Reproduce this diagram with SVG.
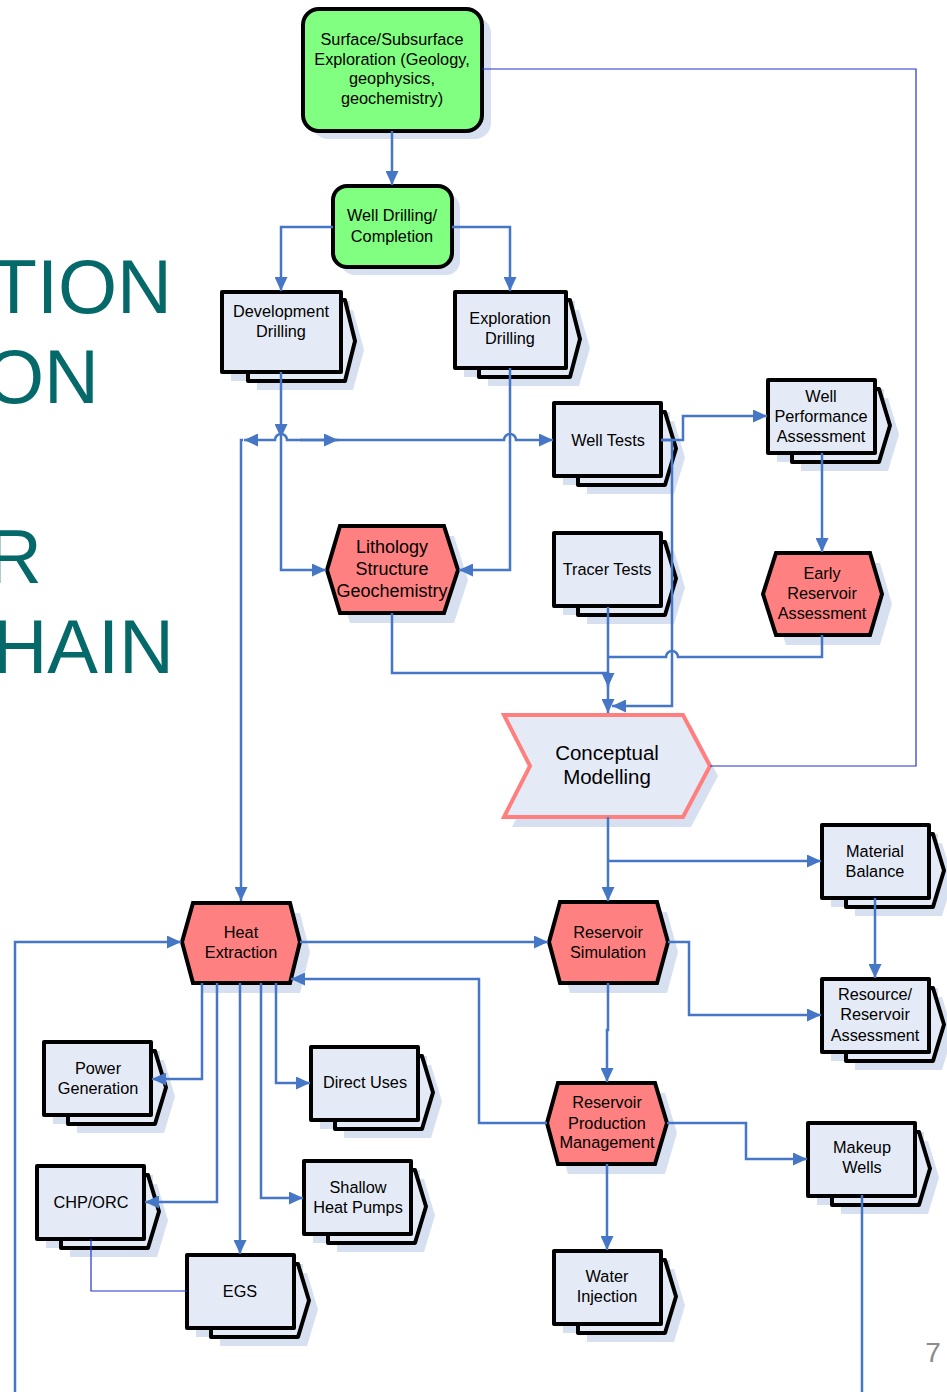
<svg xmlns="http://www.w3.org/2000/svg" xmlns:xlink="http://www.w3.org/1999/xlink" width="947" height="1392" viewBox="0 0 947 1392">
<style>
.t{font-family:"Liberation Sans",Arial,sans-serif;font-size:16.3px;fill:#000;text-anchor:middle}
.big{font-family:"Liberation Sans",Arial,sans-serif;font-size:76px;fill:#05696A;text-anchor:end}
.sh{fill:#D7E0F0;stroke:none}
.doc{fill:#E5EBF6;stroke:#000;stroke-width:4;stroke-linejoin:round}
.hex{fill:#FF8080;stroke:#000;stroke-width:4;stroke-linejoin:miter}
.grn{fill:#80FF80;stroke:#000;stroke-width:4}
.c{fill:none;stroke:#4676C6;stroke-width:2.5}
.ca{fill:none;stroke:#4676C6;stroke-width:2.5;marker-end:url(#ah)}
.thin{fill:none;stroke:#2233CC;stroke-width:1.2}
</style>
<defs>
<marker id="ah" markerUnits="userSpaceOnUse" markerWidth="14" markerHeight="13" refX="14" refY="6.5" orient="auto">
<path d="M0,0 L14,6.5 L0,13 Z" fill="#4676C6"/>
</marker>
<g id="doc">
<rect class="sh" x="9" y="9" width="107" height="73"/>
<polygon class="sh" points="33,18 120,18 131,54.5 120,91 33,91"/>
<polygon class="doc" points="24,9 111,9 122,45.5 111,82 24,82"/>
<rect class="doc" x="0" y="0" width="107" height="73"/>
</g>
</defs>
<rect width="947" height="1392" fill="#fff"/>

<g id="title">
<text class="big" x="172" y="313">TION</text>
<text class="big" x="99" y="403">ON</text>
<text class="big" x="42" y="583">R</text>
<text class="big" x="174" y="673">HAIN</text>
<text x="933" y="1362" style="font-family:'Liberation Sans',Arial,sans-serif;font-size:28px;fill:#8C8C8C;text-anchor:middle">7</text>
</g>

<g id="surface-exploration">
<rect class="sh" x="312" y="17" width="179" height="122" rx="16"/>
<rect class="grn" x="303" y="9" width="179" height="122" rx="16"/>
<text class="t" x="392" y="45">Surface/Subsurface</text>
<text class="t" x="392" y="65">Exploration (Geology,</text>
<text class="t" x="392" y="84">geophysics,</text>
<text class="t" x="392" y="104">geochemistry)</text>
</g>

<g id="well-drilling">
<rect class="sh" x="341" y="194" width="119" height="81" rx="14"/>
<rect class="grn" x="333" y="186" width="119" height="81" rx="14"/>
<text class="t" x="392" y="221">Well Drilling/</text>
<text class="t" x="392" y="242">Completion</text>
</g>

<g id="development-drilling">
<rect class="sh" x="231" y="301" width="119" height="80"/>
<polygon class="sh" points="257,310 353,310 364,350 353,390 257,390"/>
<polygon class="doc" points="248,300 345,300 355,341 345,381 248,381"/>
<rect class="doc" x="222" y="292" width="119" height="80"/>
<text class="t" x="281" y="317">Development</text>
<text class="t" x="281" y="337">Drilling</text>
</g>

<g id="exploration-drilling">
<rect class="sh" x="464" y="301" width="111" height="76"/>
<polygon class="sh" points="488,310 579,310 590,348 579,386 488,386"/>
<polygon class="doc" points="479,300 570,300 580,339 570,377 479,377"/>
<rect class="doc" x="455" y="292" width="111" height="76"/>
<text class="t" x="510" y="324">Exploration</text>
<text class="t" x="510" y="344">Drilling</text>
</g>

<g id="well-tests">
<use xlink:href="#doc" href="#doc" transform="translate(554,403)"/>
<text class="t" x="608" y="446">Well Tests</text>
</g>

<g id="tracer-tests">
<use xlink:href="#doc" href="#doc" transform="translate(554,533)"/>
<text class="t" x="607" y="575">Tracer Tests</text>
</g>

<g id="well-performance">
<use xlink:href="#doc" href="#doc" transform="translate(768,380)"/>
<text class="t" x="821" y="402">Well</text>
<text class="t" x="821" y="422">Performance</text>
<text class="t" x="821" y="442">Assessment</text>
</g>

<g id="lithology">
<polygon class="sh" points="350,536 454,536 468,580 454,623 350,623 337,580"/>
<polygon class="hex" points="340,526 444,526 458,570 444,613 340,613 327,570"/>
<text class="t" x="392" y="553" style="font-size:18px">Lithology</text>
<text class="t" x="392" y="575" style="font-size:18px">Structure</text>
<text class="t" x="392" y="597" style="font-size:18px">Geochemistry</text>
</g>

<g id="early-reservoir">
<polygon class="sh" points="786,563 880,563 892,604 880,645 786,645 773,604"/>
<polygon class="hex" points="776,553 870,553 882,594 870,635 776,635 763,594"/>
<text class="t" x="822" y="579">Early</text>
<text class="t" x="822" y="599">Reservoir</text>
<text class="t" x="822" y="619">Assessment</text>
</g>

<g id="conceptual-modelling">
<polygon class="sh" points="512,725 691,725 718,776 691,827 512,827 538,776"/>
<polygon points="504,715 683,715 710,766 683,817 504,817 530,766" fill="#E5EBF6" stroke="#FF7F7F" stroke-width="4"/>
<text class="t" x="607" y="760" style="font-size:20.5px">Conceptual</text>
<text class="t" x="607" y="784" style="font-size:20.5px">Modelling</text>
</g>

<g id="material-balance">
<use xlink:href="#doc" href="#doc" transform="translate(822,825)"/>
<text class="t" x="875" y="857">Material</text>
<text class="t" x="875" y="877">Balance</text>
</g>

<g id="resource-assessment">
<use xlink:href="#doc" href="#doc" transform="translate(822,979)"/>
<text class="t" x="875" y="1000">Resource/</text>
<text class="t" x="875" y="1020">Reservoir</text>
<text class="t" x="875" y="1041">Assessment</text>
</g>

<g id="heat-extraction">
<polygon class="sh" points="203,913 300,913 310,952 300,993 203,993 192,952"/>
<polygon class="hex" points="193,903 290,903 300,942 290,983 193,983 182,942"/>
<text class="t" x="241" y="938">Heat</text>
<text class="t" x="241" y="958">Extraction</text>
</g>

<g id="reservoir-simulation">
<polygon class="sh" points="570,912 667,912 678,952 667,993 570,993 559,952"/>
<polygon class="hex" points="560,902 657,902 668,942 657,983 560,983 549,942"/>
<text class="t" x="608" y="938">Reservoir</text>
<text class="t" x="608" y="958">Simulation</text>
</g>

<g id="reservoir-production">
<polygon class="sh" points="568,1093 665,1093 677,1133 665,1174 568,1174 557,1133"/>
<polygon class="hex" points="558,1083 655,1083 667,1123 655,1164 558,1164 547,1123"/>
<text class="t" x="607" y="1108">Reservoir</text>
<text class="t" x="607" y="1129">Production</text>
<text class="t" x="607" y="1148">Management</text>
</g>

<g id="power-generation">
<use xlink:href="#doc" href="#doc" transform="translate(44,1042)"/>
<text class="t" x="98" y="1074">Power</text>
<text class="t" x="98" y="1094">Generation</text>
</g>

<g id="direct-uses">
<use xlink:href="#doc" href="#doc" transform="translate(311,1047)"/>
<text class="t" x="365" y="1088">Direct Uses</text>
</g>

<g id="chp-orc">
<use xlink:href="#doc" href="#doc" transform="translate(37,1166)"/>
<text class="t" x="91" y="1208">CHP/ORC</text>
</g>

<g id="shallow-heat-pumps">
<use xlink:href="#doc" href="#doc" transform="translate(304,1161)"/>
<text class="t" x="358" y="1193">Shallow</text>
<text class="t" x="358" y="1213">Heat Pumps</text>
</g>

<g id="egs">
<use xlink:href="#doc" href="#doc" transform="translate(187,1255)"/>
<text class="t" x="240" y="1297">EGS</text>
</g>

<g id="makeup-wells">
<use xlink:href="#doc" href="#doc" transform="translate(808,1123)"/>
<text class="t" x="862" y="1153">Makeup</text>
<text class="t" x="862" y="1173">Wells</text>
</g>

<g id="water-injection">
<use xlink:href="#doc" href="#doc" transform="translate(554,1251)"/>
<text class="t" x="607" y="1282">Water</text>
<text class="t" x="607" y="1302">Injection</text>
</g>

<g id="connectors">
<path class="thin" d="M482,69 H916 V766 H710"/>
<path class="thin" d="M91,1239 V1291 H187"/>
<path class="ca" d="M392,131 V185"/>
<path class="ca" d="M333,227 H281 V291"/>
<path class="ca" d="M452,227 H510 V291"/>
<path class="ca" d="M281,372 V438"/>
<path class="ca" d="M281,438 V570 H326"/>
<path class="ca" d="M338,440 H287 A6,6 0 0 0 275,440 H244"/>
<path class="ca" d="M300,440 H338"/>
<path class="ca" d="M338,440 H504 A6,6 0 0 1 516,440 H553"/>
<path class="ca" d="M243,440 H241 V901"/>
<path class="ca" d="M510,368 V570 H459"/>
<path class="ca" d="M392,613 V673 H608 V687"/>
<path class="ca" d="M608,607 V713"/>
<path class="c" d="M822,635 V657 H678 A6,6 0 0 0 666,657 H608"/>
<path class="ca" d="M661,440 H672 V706 H612"/>
<path class="ca" d="M661,440 H683 V416 H767"/>
<path class="ca" d="M822,453 V552"/>
<path class="ca" d="M608,817 V901"/>
<path class="ca" d="M608,861 H821"/>
<path class="ca" d="M875,898 V978"/>
<path class="ca" d="M668,942 H689 V1015 H821"/>
<path class="ca" d="M300,942 H548"/>
<path class="ca" d="M547,1123 H479 V979 H291"/>
<path class="ca" d="M608,983 V1030 H607 V1082"/>
<path class="ca" d="M667,1123 H746 V1159 H807"/>
<path class="ca" d="M607,1164 V1250"/>
<path class="c" d="M862,1195 V1392"/>
<path class="ca" d="M15,1392 V942 H181"/>
<path class="ca" d="M202,983 V1079 H152"/>
<path class="ca" d="M217,983 V1202 H145"/>
<path class="ca" d="M240,983 V1254"/>
<path class="ca" d="M261,983 V1198 H303"/>
<path class="ca" d="M276,983 V1083 H310"/>
</g>
</svg>
